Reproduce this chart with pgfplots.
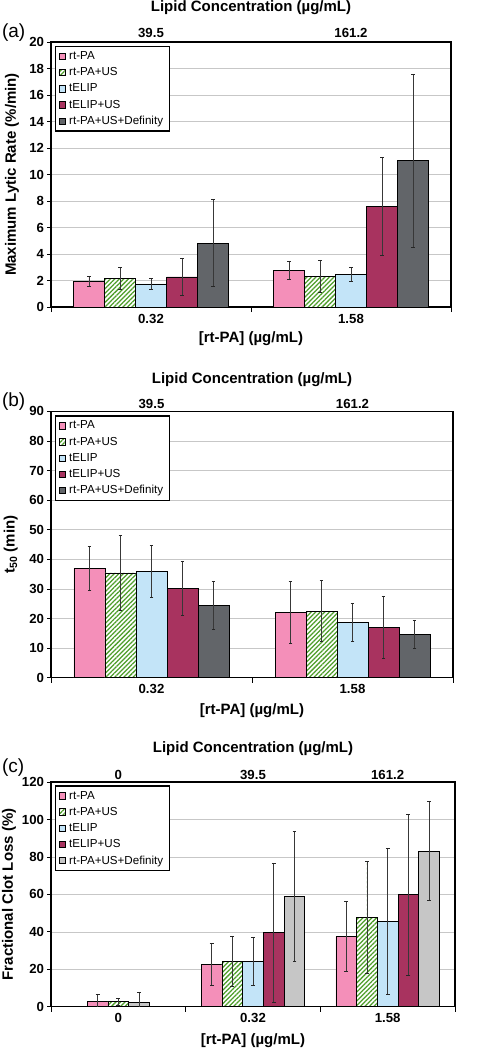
\documentclass[border=0pt]{standalone}
\usepackage{pgfplots}
\pgfplotsset{compat=1.18}
\usepackage{fontspec}
\setmainfont{Liberation Sans}
\usetikzlibrary{patterns.meta}

\definecolor{pinkc}{HTML}{F48FB9}
\definecolor{greenc}{HTML}{4E9E2A}
\definecolor{bluec}{HTML}{C3E4F8}
\definecolor{magc}{HTML}{A8335F}
\definecolor{defc}{HTML}{626569}
\definecolor{defd}{HTML}{878B8F}
\definecolor{defl}{HTML}{C6C6C6}
\definecolor{defld}{HTML}{ADADAD}

\pgfplotsset{
 sRT/.style={fill=pinkc, draw=black, line width=0.8pt},
 sUS/.style={draw=black, line width=0.8pt, preaction={fill=white}, pattern={Lines[angle=45,distance=3.2pt,line width=1.25pt]}, pattern color=greenc},
 sTE/.style={fill=bluec, draw=black, line width=0.8pt},
 sTU/.style={fill=magc, draw=black, line width=0.8pt},
 sDF/.style={fill=defc, draw=black, line width=0.8pt},
 sDL/.style={fill=defl, draw=black, line width=0.8pt},
 eb/.style={error bars/.cd, y dir=both, y explicit,
   error bar style={line width=0.9pt, draw=black!78},
   error mark options={rotate=90, mark size=1.9pt, line width=0.9pt, draw=black!85}},
 common/.style={
   scale only axis, anchor=south west, ybar=0pt,
   tick pos=left, tick align=outside,
   major tick length=3.5pt, minor tick length=5pt,
   major x tick style={draw=none},
   tick style={black, line width=0.7pt},
   ymajorgrids, major grid style={draw=black!22, line width=0.6pt},
   axis line style={line width=1.3pt},
   ticklabel style={font=\fontsize{13.2}{15}\selectfont\bfseries},
   label style={font=\fontsize{15}{18}\selectfont\bfseries},
   /pgf/number format/assume math mode=true,
   legend cell align=left,
   legend style={font=\fontsize{11.6}{13}\selectfont, draw=black, line width=1.4pt,
     anchor=north west, row sep=2.6pt, inner xsep=3pt, inner ysep=3pt,
     nodes={inner xsep=3.5pt}},
   legend image code/.code={\draw[#1, line width=0.6pt] (0pt,-3.2pt) rectangle (6.4pt,3.2pt);},
   xlabel={[rt-PA] (µg/mL)},
 },
 topax/.style={
   scale only axis, anchor=south west,
   axis x line*=top, axis y line=none,
   axis line style={draw=none},
   major tick length=0pt, xtick style={draw=none},
   ticklabel style={font=\fontsize{13.2}{15}\selectfont\bfseries},
   label style={font=\fontsize{15}{18}\selectfont\bfseries},
   /pgf/number format/assume math mode=true,
   xlabel={Lipid Concentration (µg/mL)},
 },
}

\begin{document}
\begin{tikzpicture}
\path[use as bounding box] (0pt,0pt) rectangle (480pt,-1050pt);

% ---------------- (a) ----------------
\begin{axis}[common, at={(51pt,-307pt)}, width=400pt, height=265pt,
  xmin=-0.5, xmax=1.5, ymin=0, ymax=20, ytick={0,2,...,20},
  xtick={0,1}, xticklabels={0.32,1.58}, minor xtick={-0.5,0.5,1.5},
  bar width=31pt,
  ylabel={Maximum Lytic Rate (\%/min)},
  ylabel style={at={(axis description cs:-0.0975,0.5)}, anchor=center},
  xlabel style={at={(axis description cs:0.5,-0.121)}, anchor=center},
  legend style={at={(axis description cs:0.01,0.985)}}]
\addplot[sRT, eb] coordinates {(0,1.96) +- (0,0.38) (1,2.75) +- (0,0.67)};
\addplot[sUS, eb] coordinates {(0,2.14) +- (0,0.83) (1,2.34) +- (0,1.21)};
\addplot[sTE, eb] coordinates {(0,1.74) +- (0,0.43) (1,2.49) +- (0,0.53)};
\addplot[sTU, eb] coordinates {(0,2.27) +- (0,1.37) (1,7.58) +- (0,3.69)};
\addplot[sDF, eb] coordinates {(0,4.81) +- (0,3.27) (1,11.03) +- (0,6.50)};
\legend{rt-PA,rt-PA+US,tELIP,tELIP+US,rt-PA+US+Definity}
\end{axis}
\begin{axis}[topax, at={(51pt,-307pt)}, width=400pt, height=265pt,
  xmin=-0.5, xmax=1.5, ymin=0, ymax=20,
  xtick={0,1}, xticklabels={39.5,161.2},
  xticklabel style={yshift=1pt},
  xlabel style={at={(axis description cs:0.5,1.128)}, anchor=center}]
\addplot[draw=none] coordinates {(0,0)};
\end{axis}
\node[anchor=west, font=\fontsize{19}{21}\selectfont] at (-1.5pt,-33pt) {(a)};

% ---------------- (b) ----------------
\begin{axis}[common, at={(51pt,-677.7pt)}, width=402pt, height=266.4pt,
  xmin=-0.5, xmax=1.5, ymin=0, ymax=90, ytick={0,10,...,90},
  xtick={0,1}, xticklabels={0.32,1.58}, minor xtick={-0.5,0.5,1.5},
  bar width=31pt,
  ylabel={t\textsubscript{50} (min)},
  ylabel style={at={(axis description cs:-0.1,0.5)}, anchor=center},
  xlabel style={at={(axis description cs:0.5,-0.124)}, anchor=center},
  legend style={at={(axis description cs:0.01,0.985)}}]
\addplot[sRT, eb] coordinates {(0,36.9) +- (0,7.3) (1,22.1) +- (0,10.4)};
\addplot[sUS, eb] coordinates {(0,35.4) +- (0,12.6) (1,22.5) +- (0,10.4)};
\addplot[sTE, eb] coordinates {(0,35.9) +- (0,8.7) (1,18.6) +- (0,6.4)};
\addplot[sTU, eb] coordinates {(0,30.2) +- (0,9.2) (1,17.0) +- (0,10.6)};
\addplot[sDF, eb] coordinates {(0,24.4) +- (0,8.2) (1,14.6) +- (0,4.8)};
\legend{rt-PA,rt-PA+US,tELIP,tELIP+US,rt-PA+US+Definity}
\end{axis}
\begin{axis}[topax, at={(51pt,-677.7pt)}, width=402pt, height=266.4pt,
  xmin=-0.5, xmax=1.5, ymin=0, ymax=90,
  xtick={0,1}, xticklabels={39.5,161.2},
  xticklabel style={yshift=-1pt},
  xlabel style={at={(axis description cs:0.5,1.12)}, anchor=center}]
\addplot[draw=none] coordinates {(0,0)};
\end{axis}
\node[anchor=west, font=\fontsize{19}{21}\selectfont] at (-1.5pt,-401.7pt) {(b)};

% ---------------- (c) ----------------
\begin{axis}[common, at={(51pt,-1006.7pt)}, width=404pt, height=224.7pt,
  xmin=-0.5, xmax=2.5, ymin=0, ymax=120, ytick={0,20,...,120},
  xtick={0,1,2}, xticklabels={0,0.32,1.58}, minor xtick={-0.5,0.5,1.5,2.5},
  bar width=20.7pt,
  ylabel={Fractional Clot Loss (\%)},
  ylabel style={at={(axis description cs:-0.104,0.5)}, anchor=center},
  xlabel style={at={(axis description cs:0.5,-0.151)}, anchor=center},
  legend style={at={(axis description cs:0.01,0.985)}}]
\addplot[sRT, bar shift=-41.4pt, eb] coordinates {(1,22.6) +- (0,11.1) (2,37.4) +- (0,18.7)};
\addplot[sUS, bar shift=-20.7pt, eb] coordinates {(1,24.2) +- (0,13.4) (2,47.7) +- (0,30.0)};
\addplot[sTE, bar shift=0pt, eb] coordinates {(1,24.2) +- (0,12.8) (2,45.6) +- (0,39.0)};
\addplot[sTU, bar shift=20.7pt, eb] coordinates {(1,39.5) +- (0,37.0) (2,59.8) +- (0,43.0)};
\addplot[sDL, bar shift=41.4pt, eb] coordinates {(1,58.9) +- (0,34.6) (2,83.1) +- (0,26.5)};
\legend{rt-PA,rt-PA+US,tELIP,tELIP+US,rt-PA+US+Definity}
\addplot[sRT, bar shift=-20.7pt, forget plot, eb] coordinates {(0,2.6) +- (0,4.2)};
\addplot[sUS, bar shift=0pt, forget plot, eb] coordinates {(0,2.6) +- (0,1.9)};
\addplot[sDL, bar shift=20.7pt, forget plot, eb] coordinates {(0,2.1) +- (0,5.4)};
\end{axis}
\begin{axis}[topax, at={(51pt,-1006.7pt)}, width=404pt, height=224.7pt,
  xmin=-0.5, xmax=2.5, ymin=0, ymax=120,
  xtick={0,1,2}, xticklabels={0,39.5,161.2},
  xticklabel style={yshift=-1pt},
  xlabel style={at={(axis description cs:0.5,1.15)}, anchor=center}]
\addplot[draw=none] coordinates {(0,0)};
\end{axis}
\node[anchor=west, font=\fontsize{19}{21}\selectfont] at (-1.5pt,-767.3pt) {(c)};
\end{tikzpicture}
\end{document}
